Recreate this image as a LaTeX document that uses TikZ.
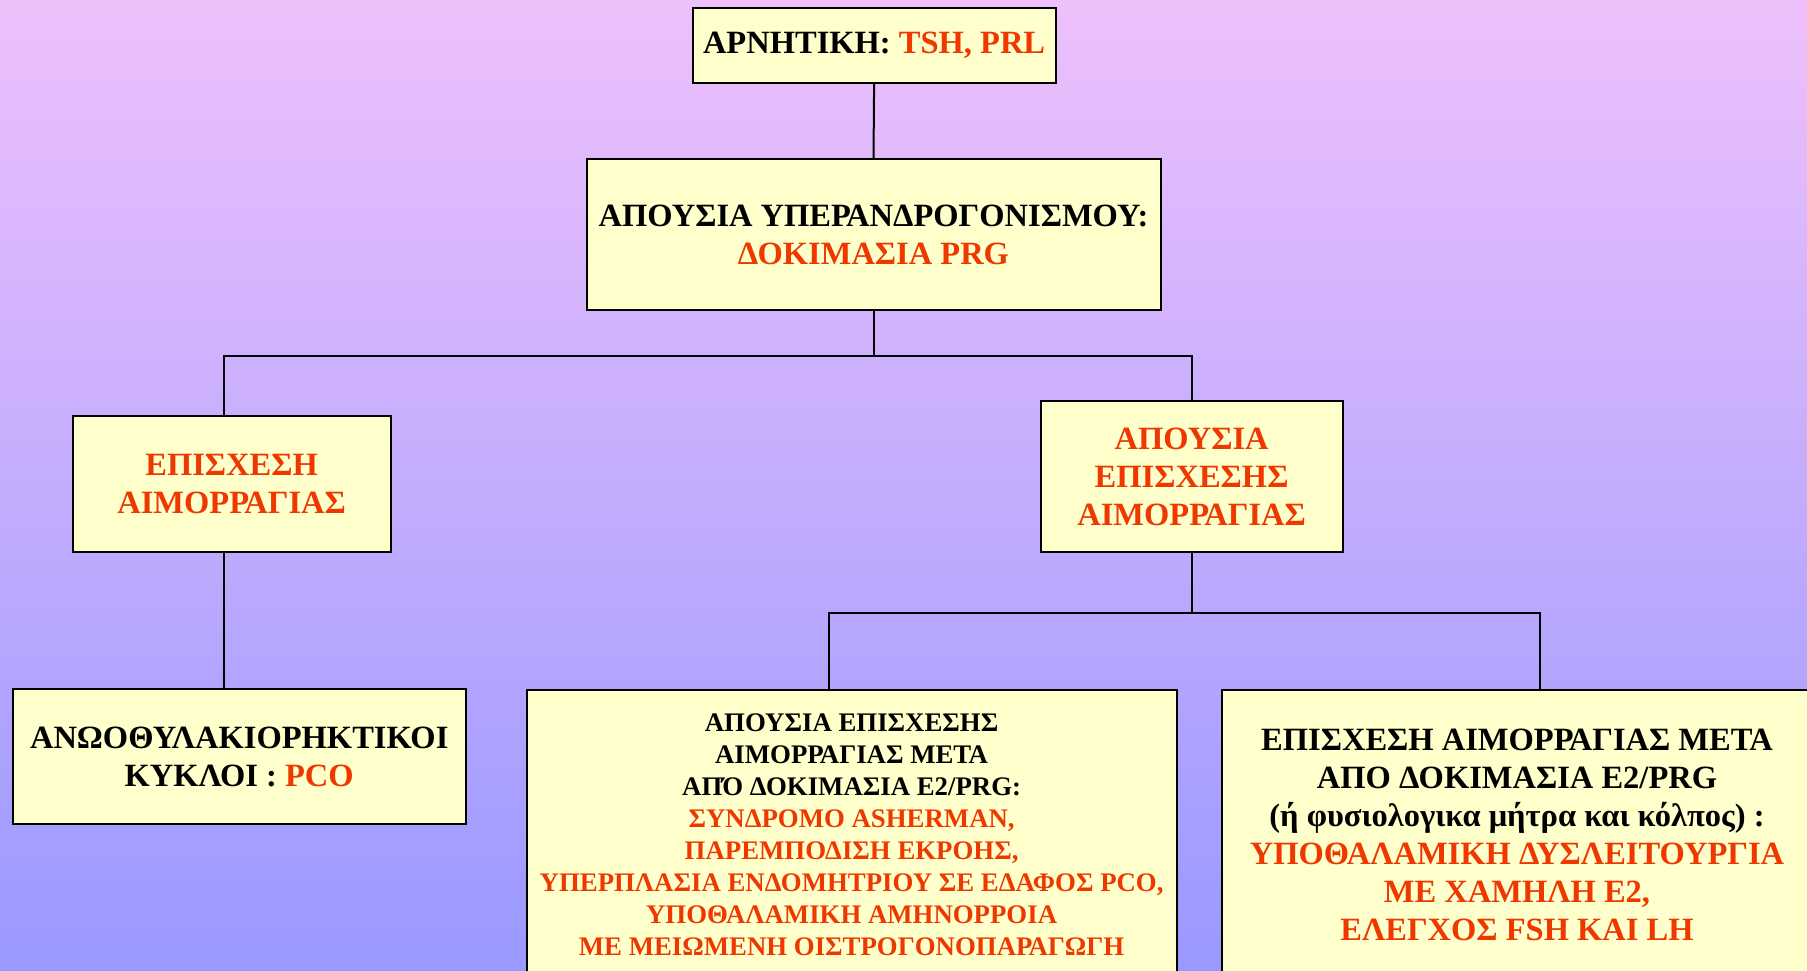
\documentclass[tikz,border=0pt]{standalone}
\usepackage{fontspec}
\setmainfont{Liberation Serif}
\usetikzlibrary{positioning}
\definecolor{bgtop}{RGB}{238,192,252}
\definecolor{bgbot}{RGB}{153,153,255}
\definecolor{boxfill}{RGB}{255,255,204}
\definecolor{hl}{RGB}{238,56,0}
\tikzset{
  flowbox/.style={draw=black, line width=2pt, fill=boxfill, rectangle,
    align=center, inner sep=0pt, font=\bfseries\fontsize{32.5}{38}\selectfont},
  smalltext/.style={font=\bfseries\fontsize{26.8}{32}\selectfont},
  link/.style={draw=black, line width=2pt}
}
\newcommand{\hot}[1]{\textcolor{hl}{#1}}
\begin{document}
\begin{tikzpicture}[x=1pt,y=-1pt]
  % backdrop with vertical colour fade
  \shade[top color=bgtop, bottom color=bgbot] (0,0) rectangle (1807,971);
  \useasboundingbox (0,0) rectangle (1807,971);

  % boxes
  \node[flowbox, minimum width=363pt, minimum height=75pt] (top) at (874.1,45.5)
    {ΑΡΝΗΤΙΚΗ: \hot{TSH, PRL}};
  \node[flowbox, minimum width=574pt, minimum height=151pt] (prg) at (873.5,234.5)
    {ΑΠΟΥΣΙΑ ΥΠΕΡΑΝΔΡΟΓΟΝΙΣΜΟΥ:\\ \hot{ΔΟΚΙΜΑΣΙΑ PRG}};
  \node[flowbox, minimum width=318pt, minimum height=136pt] (bleed) at (231.6,484)
    {\hot{ΕΠΙΣΧΕΣΗ}\\ \hot{ΑΙΜΟΡΡΑΓΙΑΣ}};
  \node[flowbox, minimum width=302pt, minimum height=151pt] (nobleed) at (1191.6,476.5)
    {\hot{ΑΠΟΥΣΙΑ}\\ \hot{ΕΠΙΣΧΕΣΗΣ}\\ \hot{ΑΙΜΟΡΡΑΓΙΑΣ}};
  \node[flowbox, minimum width=453pt, minimum height=135pt] (pco) at (239.2,756.5)
    {ΑΝΩΟΘΥΛΑΚΙΟΡΗΚΤΙΚΟΙ\\ ΚΥΚΛΟΙ : \hot{PCO}};
  \node[flowbox, smalltext, minimum width=650pt, minimum height=289pt] (asher) at (851.6,834.5)
    {ΑΠΟΥΣΙΑ ΕΠΙΣΧΕΣΗΣ\\ ΑΙΜΟΡΡΑΓΙΑΣ ΜΕΤΑ\\ ΑΠΌ ΔΟΚΙΜΑΣΙΑ E2/PRG:\\
     \hot{ΣΥΝΔΡΟΜΟ ASHERMAN,}\\ \hot{ΠΑΡΕΜΠΟΔΙΣΗ ΕΚΡΟΗΣ,}\\
     \hot{ΥΠΕΡΠΛΑΣΙΑ ΕΝΔΟΜΗΤΡΙΟΥ ΣΕ ΕΔΑΦΟΣ PCO,}\\
     \hot{ΥΠΟΘΑΛΑΜΙΚΗ ΑΜΗΝΟΡΡΟΙΑ}\\ \hot{ΜΕ ΜΕΙΩΜΕΝΗ ΟΙΣΤΡΟΓΟΝΟΠΑΡΑΓΩΓΗ}};
  \node[flowbox, minimum width=591pt, minimum height=289pt] (hypo) at (1517,834.5)
    {ΕΠΙΣΧΕΣΗ ΑΙΜΟΡΡΑΓΙΑΣ ΜΕΤΑ\\ ΑΠΟ ΔΟΚΙΜΑΣΙΑ E2/PRG\\
     (ή φυσιολογικα μήτρα και κόλπος) :\\
     \hot{ΥΠΟΘΑΛΑΜΙΚΗ ΔΥΣΛΕΙΤΟΥΡΓΙΑ}\\ \hot{ΜΕ ΧΑΜΗΛΗ E2,}\\ \hot{ΕΛΕΓΧΟΣ FSH ΚΑΙ LH}};

  % branching points
  \coordinate (split1) at (874.1,356);
  \coordinate (split2) at (1191.6,613);

  % connectors
  \draw[link] (top.south) -- (prg.north);
  \draw[link] (prg.south -| split1) -- (split1);
  \draw[link] (split1) -| ([xshift=-8pt]bleed.north);
  \draw[link] (split1) -| (nobleed.north);
  \draw[link] ([xshift=-8pt]bleed.south) -- ([xshift=-8pt]bleed.south |- pco.north);
  \draw[link] (nobleed.south) -- (split2);
  \draw[link] (split2) -| ([xshift=-23pt]asher.north);
  \draw[link] (split2) -| ([xshift=22.7pt]hypo.north);
\end{tikzpicture}
\end{document}
